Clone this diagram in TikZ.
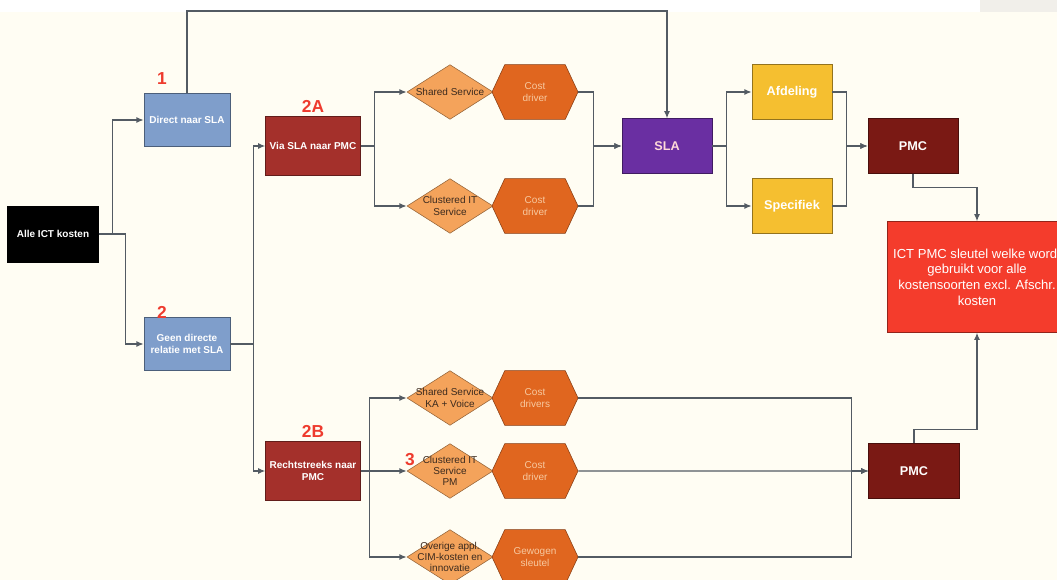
\documentclass[tikz,border=0pt]{standalone}
\usepackage{fontspec}
\setmainfont{Liberation Sans}
\usetikzlibrary{arrows.meta,shapes.geometric,shapes.symbols}
\definecolor{cream}{HTML}{FFFDF3}
\definecolor{topgray}{HTML}{F1EFEA}
\definecolor{linegray}{HTML}{535B63}
\definecolor{steel}{HTML}{7F9ECB}
\definecolor{brick}{HTML}{A4302B}
\definecolor{peach}{HTML}{F4A35B}
\definecolor{rust}{HTML}{E0661F}
\definecolor{violet}{HTML}{6A2FA2}
\definecolor{gold}{HTML}{F5BF30}
\definecolor{maroon}{HTML}{7A1914}
\definecolor{signalred}{HTML}{F43C2C}
\definecolor{markred}{HTML}{EE3B2E}
\definecolor{diatext}{HTML}{3B2A1E}
\definecolor{hextext}{HTML}{F7C9A0}
\begin{document}
\begin{tikzpicture}[x=0.75pt, y=-0.75pt, >={Latex[length=5.5pt,width=4.5pt]},
    blok/.style={rectangle, draw=#1!60!black, fill=#1, text=white, align=center, inner sep=1pt,
        font=\bfseries\fontsize{7.5}{9.5}\selectfont},
    big/.style={font=\bfseries\fontsize{9.5}{11}\selectfont},
    dia/.style={diamond, draw=peach!60!black, fill=peach, minimum width=64.5pt, minimum height=41pt, inner sep=0pt},
    diatxt/.style={text=diatext, align=center, font=\fontsize{7.5}{8.5}\selectfont},
    hex/.style={signal, signal to=west and east, signal pointer angle=130, draw=rust!60!black, fill=rust,
        minimum width=64.5pt, minimum height=41pt, inner sep=1pt, text=hextext, align=center,
        font=\fontsize{7.5}{9}\selectfont},
    numtag/.style={text=markred, font=\bfseries\fontsize{13}{13}\selectfont},
    conn/.style={draw=linegray, line width=1pt, ->}]
    % Background
    \useasboundingbox (0,0) rectangle (1057,580);
    \fill[white] (0,0) rectangle (1057,12);
    \fill[cream] (0,12) rectangle (1057,580);
    \fill[topgray] (980,0) rectangle (1057,12);

    % Start and split
    \node[blok=black, minimum width=68pt, minimum height=42pt] (alle) at (53,234) {Alle ICT kosten};
    \node[blok=steel, minimum width=64.5pt, minimum height=40pt] (direct) at (187,120) {Direct naar SLA};
    \node[blok=steel, minimum width=64.5pt, minimum height=40pt] (geen) at (187,344) {Geen directe\\relatie met SLA};
    \node[blok=brick, minimum width=71pt, minimum height=44pt] (via) at (313,146) {Via SLA naar PMC};
    \node[blok=brick, minimum width=71pt, minimum height=44pt] (recht) at (313,471) {Rechtstreeks naar\\PMC};

    % Services and drivers
    \node[dia, label={[diatxt]center:{Shared Service}}] (shared) at (450,92) {};
    \node[dia, label={[diatxt]center:{Clustered IT\\Service}}] (clustered) at (450,206) {};
    \node[dia, label={[diatxt]center:{Shared Service\\KA + Voice}}] (sharedka) at (450,398) {};
    \node[dia, label={[diatxt]center:{Clustered IT\\Service\\PM}}] (clusteredpm) at (450,471) {};
    \node[dia, label={[diatxt]center:{Overige appl.\\CIM-kosten en\\innovatie}}] (overige) at (450,557) {};
    \node[hex] (driverA) at (535,92) {Cost\\driver};
    \node[hex] (driverB) at (535,206) {Cost\\driver};
    \node[hex] (driversC) at (535,398) {Cost\\drivers};
    \node[hex] (driverD) at (535,471) {Cost\\driver};
    \node[hex] (gewogen) at (535,557) {Gewogen\\sleutel};

    % SLA and PMC
    \node[blok=violet, big, text=pink!60!white, minimum width=67.5pt, minimum height=41pt] (sla) at (667,146) {SLA};
    \node[blok=gold, big, minimum width=60pt, minimum height=41pt] (afdeling) at (792,92) {Afdeling};
    \node[blok=gold, big, minimum width=60pt, minimum height=41pt] (specifiek) at (792,206) {Specifiek};
    \node[blok=maroon, big, minimum width=67.5pt, minimum height=41pt] (pmcA) at (913,146) {PMC};
    \node[blok=maroon, big, minimum width=68pt, minimum height=41pt] (pmcB) at (914,471) {PMC};
    \node[blok=signalred, minimum width=135pt, minimum height=83pt,
        font=\fontsize{9.8}{11.8}\selectfont] (sleutel) at (977,277)
        {ICT PMC sleutel welke wordt\\gebruikt voor alle\\kostensoorten excl. Afschr.\\kosten};

    % Step numbers
    \node[numtag] (tag1) at (162,79) {1};
    \node[numtag] (tag2) at (162,312) {2};
    \node[numtag] (tag2a) at (313,106) {2A};
    \node[numtag] (tag2b) at (313,431) {2B};
    \node[numtag] (tag3) at (410,460) {3};

    % Connectors
    \draw[conn] (alle.east) -- ++(14,0) |- (direct);
    \draw[conn] (alle.east) -- ++(27,0) |- (geen);
    \draw[conn] (direct.north) -- ++(0,-82) -| (sla.north);
    \draw[conn] (geen.east) -- ++(23,0) |- (via);
    \draw[conn] (geen.east) -- ++(23,0) |- (recht);
    \draw[conn] (via.east) -- ++(14,0) |- (shared);
    \draw[conn] (via.east) -- ++(14,0) |- (clustered);
    \draw[conn] (driverA.east) -- ++(15,0) |- (sla);
    \draw[conn] (driverB.east) -- ++(15,0) |- (sla);
    \draw[conn] (sla.east) -- ++(14,0) |- (afdeling);
    \draw[conn] (sla.east) -- ++(14,0) |- (specifiek);
    \draw[conn] (afdeling.east) -- ++(14,0) |- (pmcA);
    \draw[conn] (specifiek.east) -- ++(14,0) |- (pmcA);
    \draw[conn] (pmcA.south) -- ++(0,14) -| (sleutel);
    \draw[conn] (recht.east) -- ++(9,0) |- (sharedka);
    \draw[conn] (recht) -- (clusteredpm);
    \draw[conn] (recht.east) -- ++(9,0) |- (overige);
    \draw[conn] (driversC.east) -- ++(273,0) |- (pmcB);
    \draw[conn] (driverD) -- (pmcB);
    \draw[conn] (gewogen.east) -- ++(273,0) |- (pmcB);
    \draw[conn] (pmcB.north) -- ++(0,-14) -| (sleutel);
\end{tikzpicture}
\end{document}
